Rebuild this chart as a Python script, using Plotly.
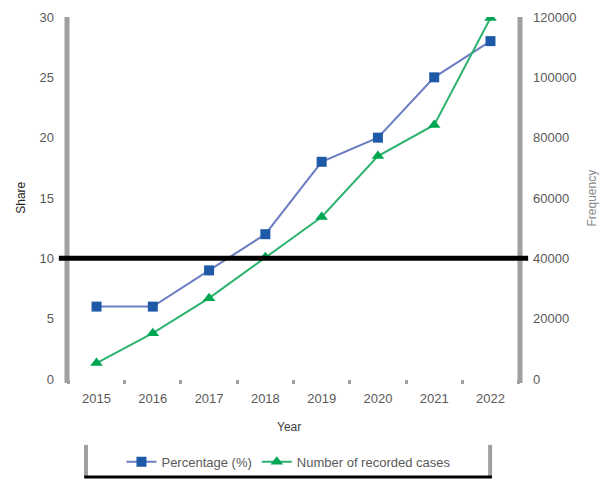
import plotly.graph_objects as go

# Data
years = ["2015", "2016", "2017", "2018", "2019", "2020", "2021", "2022"]
percentage = [6, 6, 9, 12, 18, 20, 25, 28]
records = [5300, 15200, 26800, 40400, 53700, 73900, 84200, 119700]
threshold = 10

left_ticks = [0, 5, 10, 15, 20, 25, 30]
right_ticks = [0, 20000, 40000, 60000, 80000, 100000, 120000]

FONT = "Liberation Sans, Arial, sans-serif"
TICK_COLOR = "#595959"
AXIS_GRAY = "#a0a0a0"

fig = go.Figure()

fig.add_trace(go.Scatter(
    x=years, y=percentage, name="Percentage (%)",
    mode="lines+markers",
    line=dict(color="#6d7dc2", width=2),
    marker=dict(symbol="square", size=10, color="#1f5aa8"),
))

fig.add_trace(go.Scatter(
    x=years, y=records, name="Number of recorded cases",
    yaxis="y2", mode="lines+markers",
    line=dict(color="#2db36f", width=2),
    marker=dict(symbol="triangle-up", size=11, color="#00a651"),
))

fig.update_layout(
    width=605, height=479,
    margin=dict(l=67, r=85, t=17, b=100, autoexpand=False),
    paper_bgcolor="white", plot_bgcolor="white",
    font=dict(family=FONT, size=13, color=TICK_COLOR),
    showlegend=True,
    legend=dict(
        orientation="h", x=0.49, xanchor="center",
        y=-0.229, yanchor="middle",
        font=dict(size=13, color=TICK_COLOR),
        bgcolor="rgba(0,0,0,0)",
    ),
    xaxis=dict(
        type="category", showgrid=False, zeroline=False, showline=False,
        ticks="outside", tickson="boundaries", ticklen=4, tickcolor=AXIS_GRAY,
        tickwidth=3, ticklabelstandoff=10,
        tickfont=dict(size=13, color=TICK_COLOR),
    ),
    yaxis=dict(
        range=[0, 30], tickvals=left_ticks, showgrid=False, zeroline=False,
        showline=False, ticks="", ticklabelstandoff=12,
        tickfont=dict(size=13, color=TICK_COLOR),
    ),
    yaxis2=dict(
        range=[0, 120000], tickvals=right_ticks, tickformat="d",
        overlaying="y", side="right", showgrid=False, zeroline=False,
        showline=False, ticks="", ticklabelstandoff=12,
        tickfont=dict(size=13, color=TICK_COLOR),
    ),
)

# Axis titles
fig.add_annotation(text="Year", xref="paper", yref="paper",
                   x=0.49, y=-0.133, xanchor="center", yanchor="middle",
                   showarrow=False, font=dict(size=12, color="#404040"))
fig.add_annotation(text="Share", xref="paper", yref="paper",
                   x=-0.102, y=0.5, xanchor="center", yanchor="middle",
                   textangle=-90, showarrow=False,
                   font=dict(size=12, color="#222222"))
fig.add_annotation(text="Frequency", xref="paper", yref="paper",
                   x=1.16, y=0.5, xanchor="center", yanchor="middle",
                   textangle=-90, showarrow=False,
                   font=dict(size=12, color="#8a8a8a"))

# Thick gray vertical axis lines
for xp in (0.0, 1.0):
    fig.add_shape(type="line", xref="paper", yref="paper",
                  x0=xp, x1=xp, y0=-0.011, y1=1.0,
                  line=dict(color=AXIS_GRAY, width=5))

# Reference line at the threshold
fig.add_shape(type="line", xref="paper", yref="y",
              x0=-0.018, x1=1.018, y0=threshold, y1=threshold,
              line=dict(color="black", width=5))

# Legend frame
for xp in (0.042, 0.934):
    fig.add_shape(type="line", xref="paper", yref="paper",
                  x0=xp, x1=xp, y0=-0.182, y1=-0.271,
                  line=dict(color=AXIS_GRAY, width=4))
fig.add_shape(type="line", xref="paper", yref="paper",
              x0=0.038, x1=0.938, y0=-0.271, y1=-0.271,
              line=dict(color="black", width=3))

fig.write_html("out.html")
